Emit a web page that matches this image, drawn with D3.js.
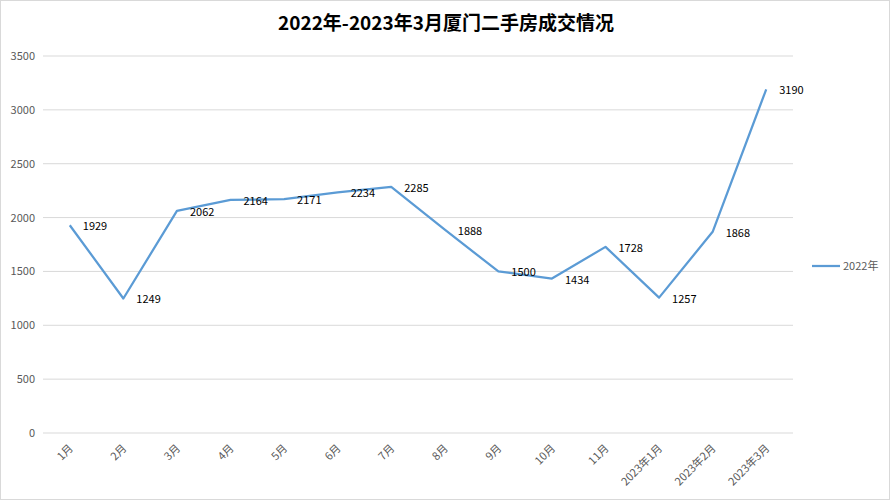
<!DOCTYPE html>
<html>
<head>
<meta charset="utf-8">
<script src="https://cdn.jsdelivr.net/npm/d3@7"></script>
<style>
  body { margin: 0; background: #fff; }
  text { font-family: "Noto Sans CJK SC", "Noto Sans", sans-serif; }
</style>
</head>
<body>
<div id="chart"></div>
<script>
// data
const months = ["1月", "2月", "3月", "4月", "5月", "6月", "7月", "8月", "9月", "10月", "11月", "2023年1月", "2023年2月", "2023年3月"];
const deals = [1929, 1249, 2062, 2164, 2171, 2234, 2285, 1888, 1500, 1434, 1728, 1257, 1868, 3190];
const yTicks = [0, 500, 1000, 1500, 2000, 2500, 3000, 3500];
const seriesName = "2022年";

// svg size
const width = 892;
const height = 502;

const margin = { top: 56, right: 99, bottom: 69, left: 43 };
const chartWidth = width - margin.left - margin.right;
const chartHeight = height - margin.top - margin.bottom;

const svg = d3.select("#chart").append("svg")
    .attr("width", width)
    .attr("height", height);

// outer border
svg.append("rect")
    .attr("x", 0.5).attr("y", 0.5)
    .attr("width", width - 3).attr("height", height - 3)
    .attr("fill", "#fff")
    .attr("stroke", "#d9d9d9");

// title
svg.append("text")
    .attr("x", 446)
    .attr("y", 30)
    .attr("text-anchor", "middle")
    .attr("font-size", 19)
    .attr("font-weight", "bold")
    .attr("fill", "#000")
    .text("2022年-2023年3月厦门二手房成交情况");

const chartGroup = svg.append("g")
    .attr("transform", `translate(${margin.left}, ${margin.top})`);

// scales
const x = d3.scaleBand()
    .domain(months)
    .range([0, chartWidth]);

const y = d3.scaleLinear()
    .domain([0, 3500])
    .range([chartHeight, 0]);

// gridlines
chartGroup.selectAll(".grid")
    .data(yTicks)
    .enter()
    .append("line")
    .attr("x1", 0)
    .attr("x2", chartWidth)
    .attr("y1", d => y(d))
    .attr("y2", d => y(d))
    .attr("stroke", "#d9d9d9")
    .attr("stroke-width", 1);

// y axis
const leftAxis = d3.axisLeft(y).tickValues(yTicks).tickFormat(d3.format("d")).tickSize(0).tickPadding(8);
const yAxis = chartGroup.append("g").call(leftAxis);
yAxis.select(".domain").remove();
yAxis.selectAll("text")
    .attr("fill", "#595959")
    .attr("font-size", 11);

// x axis
const bottomAxis = d3.axisBottom(x).tickSize(0).tickPadding(0);
const xAxis = chartGroup.append("g")
    .attr("transform", `translate(0, ${chartHeight})`)
    .call(bottomAxis);
xAxis.select(".domain").remove();
xAxis.selectAll("text")
    .attr("fill", "#595959")
    .attr("font-size", 11)
    .attr("text-anchor", "end")
    .attr("dy", null)
    .attr("y", 0)
    .attr("transform", "translate(4, 16) rotate(-45)");

// line
const line = d3.line()
    .x((d, i) => x(months[i]) + x.bandwidth() / 2)
    .y(d => y(d));

chartGroup.append("path")
    .datum(deals)
    .attr("d", line)
    .attr("fill", "none")
    .attr("stroke", "#5b9bd5")
    .attr("stroke-width", 2.25)
    .attr("stroke-linejoin", "round");

// data labels
chartGroup.selectAll(".label")
    .data(deals)
    .enter()
    .append("text")
    .attr("x", (d, i) => x(months[i]) + x.bandwidth() / 2 + 13)
    .attr("y", d => y(d) + 5)
    .attr("font-size", 11)
    .attr("fill", "#000")
    .text(d => d);

// legend
const legend = svg.append("g")
    .attr("transform", "translate(812, 266)");
legend.append("line")
    .attr("x1", 0).attr("x2", 28)
    .attr("stroke", "#5b9bd5")
    .attr("stroke-width", 2.25);
legend.append("text")
    .attr("x", 31)
    .attr("y", 4)
    .attr("font-size", 11)
    .attr("fill", "#595959")
    .text(seriesName);
</script>
</body>
</html>
